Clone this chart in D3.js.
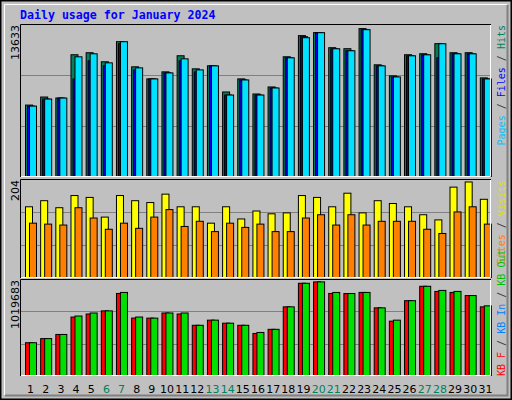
<!DOCTYPE html>
<html><head><meta charset="utf-8">
<script src="https://cdn.jsdelivr.net/npm/d3@7"></script>
<style>body{margin:0;background:#fff}</style>
</head><body>
<svg id="chart" width="512" height="400"></svg>
<script>
const days = d3.range(1, 32);
const weekend = [6, 7, 13, 14, 20, 21, 27, 28];
const hits = [6583,7326,7234,11222,11408,10573,12428,10109,8996,9645,11129,9923,10202,7790,8996,7605,8254,11036,12984,13262,11871,11778,13633,10294,9274,11222,11315,12242,11408,11408,9089];
const files = [6489,7138,7231,8992,10661,10197,12236,9826,8992,9548,10661,9641,10197,7509,8899,7509,8158,10939,12885,13256,11773,11588,13534,10197,9177,11124,11217,10939,11309,11309,8992];
const pages = [6489,7138,7231,11031,11309,10475,12422,10012,8992,9548,10846,9826,10197,7509,8899,7509,8158,10939,12793,13256,11773,11588,13534,10197,9177,11124,11217,12236,11309,11309,8992];
const visits = [151,164,149,175,171,129,175,164,160,178,151,151,116,151,125,142,136,138,175,171,151,180,138,164,158,151,134,123,193,204,167];
const sites = [116,114,112,149,127,103,116,105,129,145,109,120,98,116,107,114,98,98,127,134,112,134,112,120,120,120,103,94,140,151,114];
const kbOut = [357000,402000,447000,648000,681000,704000,905000,637000,625000,681000,681000,547000,603000,570000,547000,469000,503000,748000,1005000,1019683,905000,893000,905000,737000,603000,815000,972000,927000,916000,871000,759000];
const kbF = [357000,402000,447000,637000,670000,704000,894000,626000,625000,681000,670000,547000,603000,570000,547000,458000,503000,748000,1005000,1019683,894000,893000,905000,737000,592000,815000,972000,916000,905000,871000,748000];
const kbIn = days.map(() => 0);

const svg = d3.select('#chart');
const mono = 'DejaVu Sans Mono, monospace';
const sans = 'DejaVu Sans, sans-serif';

// frame
svg.append('rect').attr('x', 0.5).attr('y', 0.5).attr('width', 511).attr('height', 399)
  .attr('fill', '#c0c0c0').attr('stroke', '#000').attr('stroke-width', 2);
svg.append('path').attr('d', 'M4.5,395V4.5H507').attr('fill', 'none').attr('stroke', '#fff');
svg.append('path').attr('d', 'M5,395.5H507.5V5').attr('fill', 'none').attr('stroke', '#808080').attr('stroke-width', 2);

svg.append('text').attr('x', 20).attr('y', 19).text('Daily usage for January 2024')
  .attr('fill', '#0000ff').attr('font-family', mono).attr('font-weight', 'bold').attr('font-size', 11.6);

const x = d3.scaleBand().domain(days).range([21, 491]);

const panels = [
  {top: 24, bottom: 177, max: 13633, series: [[hits, '#00805c', 0], [files, '#0000ff', 2], [pages, '#00e0ff', 4]]},
  {top: 179, bottom: 278, max: 204, series: [[visits, '#ffff00', 0], [sites, '#ff8000', 4]]},
  {top: 279, bottom: 376, max: 1019683, series: [[kbF, '#ff0000', 0], [kbIn, '#0080ff', 2], [kbOut, '#00e000', 4]]}
];

panels.forEach(p => {
  const y = d3.scaleLinear().domain([0, p.max]).range([p.bottom - 0.5, p.top + (p.bottom - p.top) * 0.03]);
  const g = svg.append('g');
  [1, 2].forEach(k => {
    const gy = p.top + (p.bottom - p.top) * k / 3;
    g.append('line').attr('x1', 21).attr('x2', 490).attr('y1', Math.round(gy) + 0.5).attr('y2', Math.round(gy) + 0.5)
      .attr('stroke', '#808080');
  });
  p.series.forEach(([vals, color, off]) => {
    g.selectAll(null).data(vals).join('rect')
      .attr('x', (d, i) => x(days[i]) + 4 + off + 0.5)
      .attr('y', d => y(d))
      .attr('width', 7)
      .attr('height', d => Math.max(0, y(0) - y(d)))
      .attr('fill', color).attr('stroke', '#000');
  });
  g.append('path').attr('d', `M20.5,${p.bottom}V${p.top + 0.5}H491`).attr('fill', 'none').attr('stroke', '#000');
  g.append('path').attr('d', `M21,${p.bottom - 0.5}H490.5V${p.top + 1}`).attr('fill', 'none').attr('stroke', '#fff');
  svg.append('text').attr('transform', `translate(19,${p.top + 1}) rotate(-90)`)
    .attr('text-anchor', 'end').attr('font-family', sans).attr('font-size', 11).attr('fill', '#000')
    .text(String(p.max));
});

// day labels
svg.selectAll('.day').data(days).join('text')
  .attr('x', d => x(d) + x.bandwidth() / 2 + 2).attr('y', 393)
  .attr('text-anchor', 'middle').attr('font-family', sans).attr('font-size', 11)
  .attr('fill', d => weekend.includes(d) ? '#00805c' : '#000').text(d => d);

// right legends
function legend(parts, yPos, anchor) {
  const t = svg.append('text').attr('transform', `translate(505,${yPos}) rotate(-90)`)
    .attr('text-anchor', anchor).attr('font-family', mono).attr('font-size', 10);
  parts.forEach(([s, c]) => t.append('tspan').attr('fill', c).text(s));
}
legend([['Pages', '#00c0ff'], [' / ', '#404040'], ['Files', '#0000ff'], [' / ', '#404040'], ['Hits', '#00805c']], 25, 'end');
legend([['Sites', '#ff8000'], [' / ', '#404040'], ['Visits', '#e0e000']], 180, 'end');
legend([['KB F', '#ff0000'], [' / ', '#404040'], ['KB In', '#0080ff'], [' / ', '#404040'], ['KB Out', '#00c000']], 376, 'start');
</script>
</body></html>
